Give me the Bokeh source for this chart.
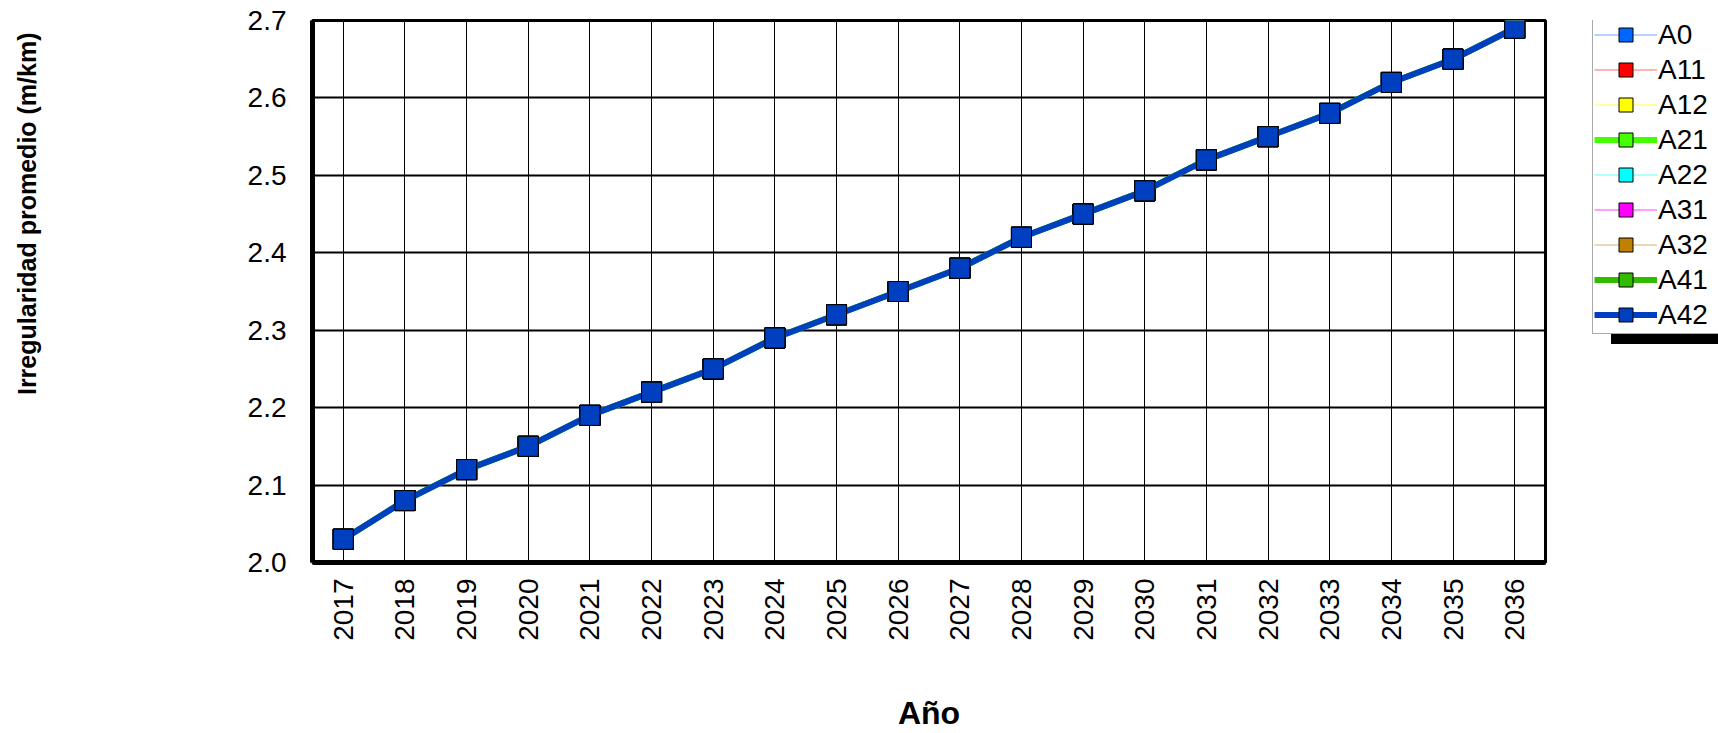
import math
from bokeh.plotting import figure
from bokeh.layouts import row
from bokeh.models import (FactorRange, Range1d, FixedTicker, Legend, LegendItem,
                          Title, ColumnDataSource, NumeralTickFormatter)
from bokeh.embed import file_html
from bokeh.resources import INLINE

# ---- data ----
years = [str(y) for y in range(2017, 2037)]
# all alternatives coincide in the reference (only A42 visible on top)
iri_values = [2.03, 2.08, 2.12, 2.15, 2.19, 2.22, 2.25, 2.29, 2.32, 2.35,
              2.38, 2.42, 2.45, 2.48, 2.52, 2.55, 2.58, 2.62, 2.65, 2.69]
series_names = ["A0", "A11", "A12", "A21", "A22", "A31", "A32", "A41", "A42"]
series_fill = ["#0066FF", "#FF0000", "#FFFF00", "#44FF00", "#00FFFF",
               "#FF00FF", "#C08000", "#33BB00", "#0040C0"]
series_line = ["#6FA0FF", "#FF6A6A", "#FFFF40", "#44FF00", "#60FFFF",
               "#FF40FF", "#D8B070", "#33BB00", "#0040C0"]
series_width = [1, 1, 1, 6, 1, 1, 1, 6, 6]
y_ticks = [2.0, 2.1, 2.2, 2.3, 2.4, 2.5, 2.6, 2.7]

FONT = "Liberation Sans"
H = 733

p = figure(width=1580, height=H, x_range=FactorRange(*years),
           y_range=Range1d(2.0, 2.7), output_backend="svg", toolbar_location=None,
           min_border_left=312, min_border_right=35, min_border_top=20,
           min_border_bottom=170)
p.background_fill_color = "white"
p.border_fill_color = "white"
p.outline_line_color = "black"
p.outline_line_width = 3

for name, fc, lc, lw in zip(series_names, series_fill, series_line, series_width):
    src = ColumnDataSource(dict(x=years, y=iri_values))
    p.line("x", "y", source=src, line_color=lc, line_width=lw)
    p.scatter("x", "y", source=src, marker="square", size=20,
              fill_color=fc, line_color="black", line_width=1)

# axes
p.yaxis.ticker = FixedTicker(ticks=y_ticks)
p.yaxis.formatter = NumeralTickFormatter(format="0.0")
for ax in (p.xaxis[0], p.yaxis[0]):
    ax.axis_line_width = 5
    ax.axis_line_color = "black"
    ax.major_tick_in = 0
    ax.major_tick_out = 0
    ax.minor_tick_in = 0
    ax.minor_tick_out = 0
    ax.major_label_text_font = FONT
    ax.major_label_text_font_size = "28px"
    ax.major_label_text_color = "black"
p.yaxis.major_label_standoff = 26
p.xaxis.major_label_standoff = 16
p.xaxis.major_label_orientation = math.pi / 2

p.xaxis.axis_label = "Año"
p.xaxis.axis_label_text_font = FONT
p.xaxis.axis_label_text_font_style = "bold"
p.xaxis.axis_label_text_font_size = "32px"
p.xaxis.axis_label_text_color = "black"
p.xaxis.axis_label_standoff = 51

# grid
p.xgrid.grid_line_color = "black"
p.xgrid.grid_line_width = 1
p.ygrid.grid_line_color = "black"
p.ygrid.grid_line_width = 2
p.ygrid.ticker = FixedTicker(ticks=y_ticks)

# y axis title (spacer + title in the left panel)
p.add_layout(Title(text=" ", text_font_size="1px", standoff=200), "left")
p.add_layout(Title(text="Irregularidad promedio (m/km)", align="right", offset=12,
                   vertical_align="middle", standoff=0,
                   text_font=FONT, text_font_style="bold", text_font_size="25px",
                   text_color="black"), "left")

# ---- legend panel (separate figure so the legend is not clipped) ----
# same series drawn outside its visible range; only the legend shows
lg = figure(width=1718 - 1580, height=H, x_range=FactorRange(*years),
            y_range=Range1d(0, 1), output_backend="svg", toolbar_location=None,
            x_axis_location=None, y_axis_location=None,
            min_border_left=0, min_border_right=0,
            min_border_top=0, min_border_bottom=0)
lg.grid.visible = False
lg.outline_line_color = None
lg.background_fill_color = "white"
lg.border_fill_color = "white"

items = []
shadow_items = []
for name, fc, lc, lw in zip(series_names, series_fill, series_line, series_width):
    src = ColumnDataSource(dict(x=years, y=iri_values))
    r_line = lg.line("x", "y", source=src, line_color=lc, line_width=lw)
    r_pts = lg.scatter("x", "y", source=src, marker="square", fill_color=fc,
                       line_color="black", line_width=1)
    items.append(LegendItem(label=name, renderers=[r_line, r_pts]))
    r_hidden = lg.scatter("x", "y", source=src, marker="square",
                          fill_alpha=0, line_alpha=0)
    shadow_items.append(LegendItem(label=" ", renderers=[r_hidden]))

common = dict(orientation="vertical", glyph_width=63, glyph_height=35, spacing=0,
              padding=1, margin=0, label_standoff=1, label_width=80,
              label_text_font=FONT, label_text_font_size="28px")

shadow = Legend(items=shadow_items, location=(31, 563 - 345),
                label_text_alpha=0, border_line_color="black",
                background_fill_color="black", background_fill_alpha=1.0, **common)
lg.add_layout(shadow, "center")

legend = Legend(items=items, location=(12, 563 - 335),
                label_text_color="black", border_line_color="#555555",
                border_line_width=1, background_fill_color="white",
                background_fill_alpha=1.0, **common)
lg.add_layout(legend, "center")

layout = row(p, lg, spacing=0)
open("out.html", "w").write(file_html(layout, INLINE))
